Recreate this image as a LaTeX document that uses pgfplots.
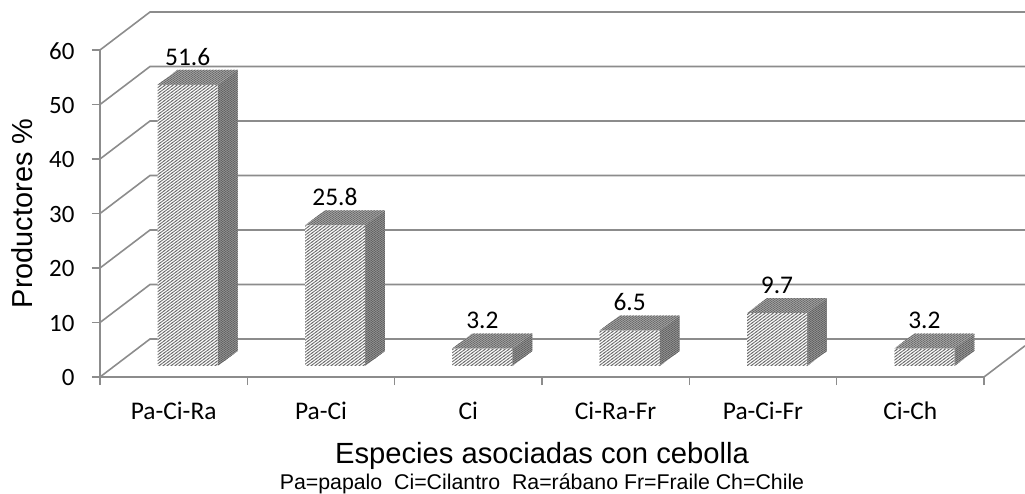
\documentclass[border=0pt]{standalone}
\usepackage{pgfplots}
\pgfplotsset{compat=1.18}
\usepackage{pgfplotstable}
\usepackage{fontspec}
\setmainfont{Liberation Sans}
\newfontfamily\calfont{Carlito}
\usetikzlibrary{patterns}
\definecolor{axgray}{RGB}{140,140,140}
\pgfdeclarepatternformonly{hatchfront}{\pgfqpoint{-1bp}{-1bp}}{\pgfqpoint{5bp}{4bp}}{\pgfqpoint{4bp}{3bp}}{
  \pgfsetlinewidth{0.8bp}
  \pgfpathmoveto{\pgfqpoint{-1bp}{-.75bp}}\pgfpathlineto{\pgfqpoint{5bp}{3.75bp}}\pgfusepath{stroke}
}
\pgfdeclarepatternformonly{hatchside}{\pgfqpoint{-1bp}{-1bp}}{\pgfqpoint{4bp}{3bp}}{\pgfqpoint{3bp}{2bp}}{
  \pgfsetlinewidth{0.7bp}
  \pgfpathmoveto{\pgfqpoint{-.75bp}{-.5bp}}\pgfpathlineto{\pgfqpoint{3.75bp}{2.5bp}}\pgfusepath{stroke}
}
\pgfplotstableread{
x v
0 51.6
1 25.8
2 3.2
3 6.5
4 9.7
5 3.2
}\datatab
\tikzset{
  grid3d/.style={draw=axgray,line width=1.6bp,no markers,sharp plot},
  sideface/.style={draw=none,no markers,sharp plot,preaction={fill=white!65!black},pattern=hatchside,pattern color=black!62},
  topface/.style={draw=none,no markers,sharp plot,preaction={fill=white!72!black},pattern=hatchside,pattern color=black!58},
}
\begin{document}
\begin{tikzpicture}
\useasboundingbox (0,0) rectangle (1025bp,494bp);
\begin{axis}[
  at={(100bp,117bp)},anchor=south west,
  scale only axis,width=884bp,height=327bp,
  xmin=-0.5,xmax=5.5,ymin=0,ymax=60,
  clip=false,
  axis x line=bottom,axis y line=left,
  axis line style={draw=axgray,line width=2bp,-},
  tick style={draw=axgray,line width=1.5bp},
  tick align=outside,
  major tick length=8bp,minor tick length=8bp,
  ytick={0,10,...,60},
  xtick={0,...,5},
  xticklabels={Pa-Ci-Ra,Pa-Ci,Ci,Ci-Ra-Fr,Pa-Ci-Fr,Ci-Ch},
  minor xtick={-0.5,0.5,...,5.5},
  major x tick style={draw=none},
  /pgf/number format/assume math mode=true,
  yticklabel style={font=\calfont\fontsize{25}{30}\selectfont,xshift=-14bp,yshift=-1bp},
  xticklabel style={font=\calfont\fontsize{25.5}{30}\selectfont,yshift=-14bp,text height=16.5bp,text depth=0pt},
  xlabel={Especies asociadas con cebolla},
  xlabel style={font=\fontsize{29.3}{35}\selectfont,at={(rel axis cs:0.5,0)},anchor=center,yshift=-79bp},
  ylabel={Productores \%},
  ylabel style={font=\fontsize{29}{35}\selectfont,at={(rel axis cs:0,0.5)},anchor=center,yshift=78bp},
]
% back wall and floor
\addplot[grid3d] coordinates {(-0.5,0) (-0.1606,6.97) (5.778,6.97)};
\addplot[grid3d] coordinates {(-0.5,10) (-0.1606,16.97) (5.778,16.97)};
\addplot[grid3d] coordinates {(-0.5,20) (-0.1606,26.97) (5.778,26.97)};
\addplot[grid3d] coordinates {(-0.5,30) (-0.1606,36.97) (5.778,36.97)};
\addplot[grid3d] coordinates {(-0.5,40) (-0.1606,46.97) (5.778,46.97)};
\addplot[grid3d] coordinates {(-0.5,50) (-0.1606,56.97) (5.778,56.97)};
\addplot[grid3d] coordinates {(-0.5,60) (-0.1606,66.97) (5.778,66.97)};
\addplot[grid3d] coordinates {(5.5,0) (5.778,5.72)};
% side faces
\addplot[sideface] coordinates {(0.2986,2.018) (0.4343,4.771) (0.4343,56.371) (0.2986,53.618)} -- cycle;
\addplot[sideface] coordinates {(1.2986,2.018) (1.4343,4.771) (1.4343,30.571) (1.2986,27.818)} -- cycle;
\addplot[sideface] coordinates {(2.2986,2.018) (2.4343,4.771) (2.4343,7.971) (2.2986,5.218)} -- cycle;
\addplot[sideface] coordinates {(3.2986,2.018) (3.4343,4.771) (3.4343,11.271) (3.2986,8.518)} -- cycle;
\addplot[sideface] coordinates {(4.2986,2.018) (4.4343,4.771) (4.4343,14.471) (4.2986,11.718)} -- cycle;
\addplot[sideface] coordinates {(5.2986,2.018) (5.4343,4.771) (5.4343,7.971) (5.2986,5.218)} -- cycle;
% top faces
\addplot[topface] coordinates {(-0.1086,53.618) (0.2986,53.618) (0.4343,56.371) (0.0271,56.371)} -- cycle;
\addplot[topface] coordinates {(0.8914,27.818) (1.2986,27.818) (1.4343,30.571) (1.0271,30.571)} -- cycle;
\addplot[topface] coordinates {(1.8914,5.218) (2.2986,5.218) (2.4343,7.971) (2.0271,7.971)} -- cycle;
\addplot[topface] coordinates {(2.8914,8.518) (3.2986,8.518) (3.4343,11.271) (3.0271,11.271)} -- cycle;
\addplot[topface] coordinates {(3.8914,11.718) (4.2986,11.718) (4.4343,14.471) (4.0271,14.471)} -- cycle;
\addplot[topface] coordinates {(4.8914,5.218) (5.2986,5.218) (5.4343,7.971) (5.0271,7.971)} -- cycle;
% front faces, with the values
\addplot[ybar,bar width=60bp,bar shift=0pt,draw=none,shift={(14bp,11bp)},
  preaction={fill=white},pattern=hatchfront,pattern color=black!58,
  nodes near coords,
  every node near coord/.append style={font=\calfont\fontsize{25.5}{30}\selectfont,text=black,anchor=south,yshift=16bp},
  /pgf/number format/fixed,/pgf/number format/precision=1,
] table[x=x,y=v] {\datatab};
\node[font=\fontsize{21.4}{26}\selectfont,anchor=center] at (axis cs:2.5,-19.6) {Pa=papalo\ \ Ci=Cilantro\ \ Ra=rábano Fr=Fraile Ch=Chile};
\end{axis}
\end{tikzpicture}
\end{document}
